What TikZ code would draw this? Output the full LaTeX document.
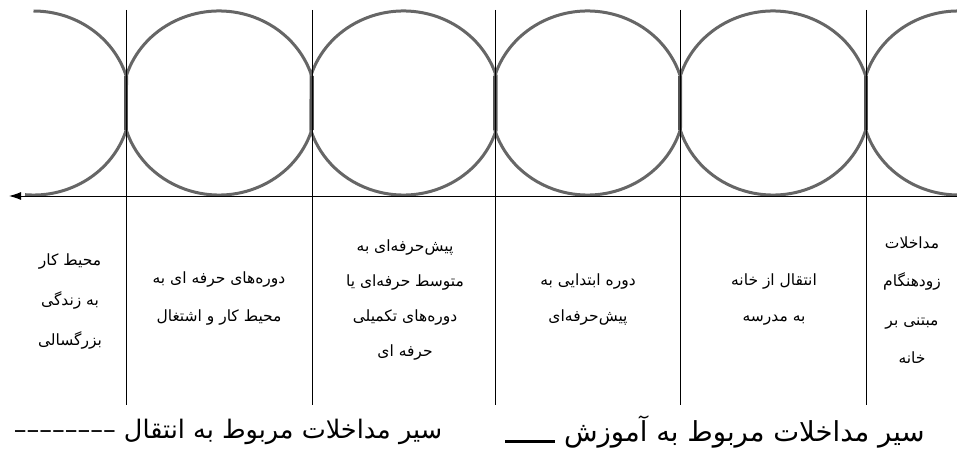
\documentclass[tikz,border=0pt]{standalone}
\usepackage{fontspec}
\usetikzlibrary{arrows.meta}
\TeXXeTstate=1
\newfontfamily\persian[Script=Arabic]{DejaVu Sans}
\tikzset{
  ring/.style={draw=black!60, line width=3pt, line join=round},
  bar/.style={draw=black!68, line width=4.5pt},
  sep/.style={draw=black, line width=0.8pt},
  lbl/.style={font=\persian\fontsize{15.5}{#1}\selectfont, align=center, inner sep=0pt},
  lbl/.default=37,
  leg/.style={font=\persian\fontsize{#1}{28}\selectfont, inner sep=0pt},
  leg/.default=25.5
}
\begin{document}
\begin{tikzpicture}[x=1pt,y=-1pt]
\useasboundingbox (0,0) rectangle (957,457);
\begin{scope}
\clip (0,0) rectangle (957,457);
% full rings
\foreach \cx in {219,403.5,587.5,773}{
  \draw[ring] (\cx+92.5,130.7) arc[start angle=17.5,end angle=162.5,x radius=97,y radius=92]
     -- (\cx-92.5,75.3) arc[start angle=197.5,end angle=342.5,x radius=97,y radius=92] -- cycle;
}
% left partial ring
\draw[ring] (33.5,11) arc[start angle=270,end angle=342.5,x radius=97,y radius=92]
   -- (126,130.7) arc[start angle=17.5,end angle=95,x radius=97,y radius=92];
% right partial ring
\draw[ring] (958.5,195) arc[start angle=90,end angle=162.5,x radius=97,y radius=92]
   -- (866,75.3) arc[start angle=197.5,end angle=270,x radius=97,y radius=92];
\end{scope}
% joints
\foreach \x in {126,312,495,680,866}{
  \draw[bar] (\x,76) -- (\x,130);
}
% separators
\foreach \x in {126,312,495,680,866}{
  \draw[sep] (\x,10) -- (\x,405);
}
% arrow
\coordinate (aS) at (957,196);
\coordinate (aE) at (9,196);
\draw[sep, line width=1pt, -{Latex[length=12pt,width=8pt]}] (aS) -- (aE);
% column labels
\node[lbl=40] (c1) at (70,302) {\beginR محیط کار\endR\\\beginR به زندگی\endR\\\beginR بزرگسالی\endR};
\node[lbl=38] (c2) at (219,299) {\beginR دوره‌های حرفه ای به\endR\\\beginR محیط کار و اشتغال\endR};
\node[lbl=35.3] (c3) at (405,300) {\beginR پیش‌حرفه‌ای به\endR\\\beginR متوسط حرفه‌ای یا\endR\\\beginR دوره‌های تکمیلی\endR\\\beginR حرفه ای\endR};
\node[lbl=36] (c4) at (588,300) {\beginR دوره ابتدایی به\endR\\\beginR پیش‌حرفه‌ای\endR};
\node[lbl=36] (c5) at (774,300) {\beginR انتقال از خانه\endR\\\beginR به مدرسه\endR};
\node[lbl=38.3] (c6) at (912,300) {\beginR مداخلات\endR\\\beginR زودهنگام\endR\\\beginR مبتنی بر\endR\\\beginR خانه\endR};
% legend
\node[leg] (t1) at (228,432) {\beginR سیر مداخلات مربوط به انتقال ––––––––\endR};
\node[leg=27.5] (t2) at (715,432) {\beginR سیر مداخلات مربوط به آموزش \rule[-1pt]{50pt}{2.2pt}\endR};
\end{tikzpicture}
\end{document}
